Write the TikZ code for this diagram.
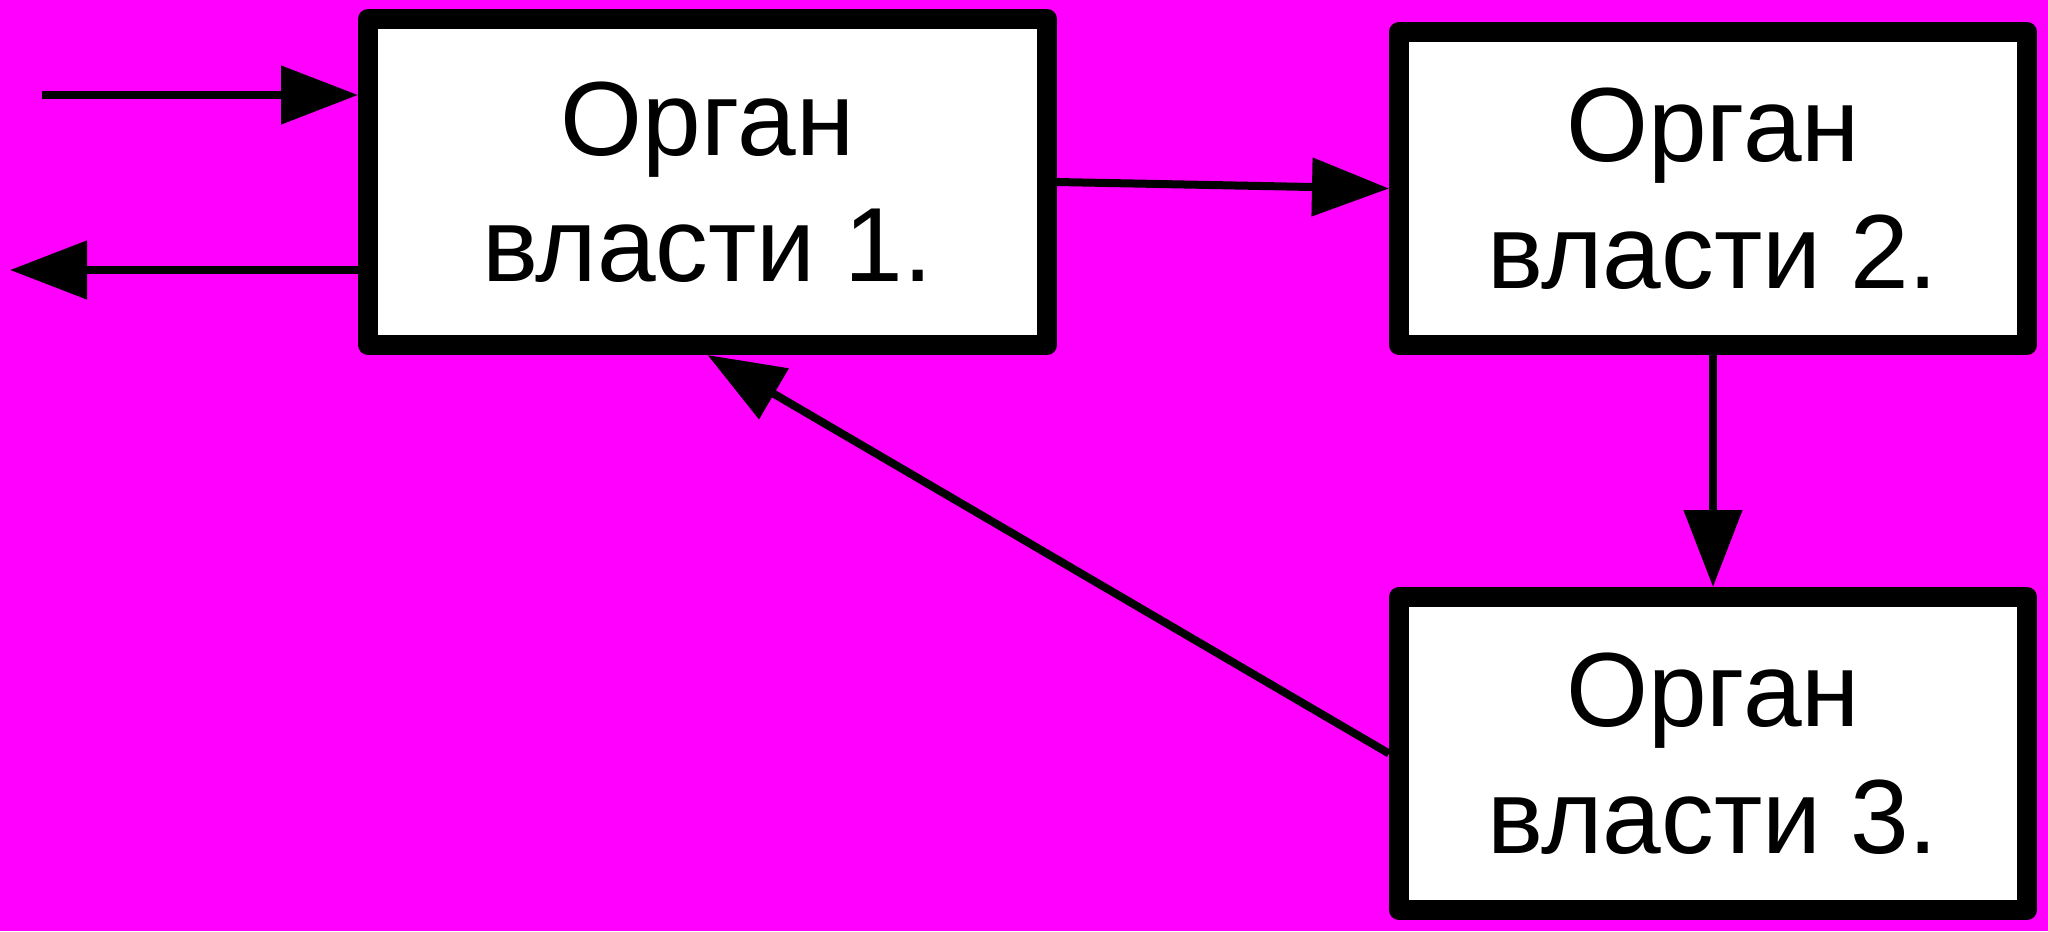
\documentclass[tikz,border=0pt]{standalone}
\usepackage{fontspec}
\setmainfont{Liberation Sans}
\usetikzlibrary{arrows.meta}
\definecolor{M}{RGB}{255, 0, 255}

\tikzset{
  organ/.style={draw, fill=white, line width=0.2cm, line join=round,
    align=center, font=\fontsize{30}{36}\selectfont},
  flecha/.style={line width=0.08cm, -{Triangle[length=7.7mm, width=5.7mm]}}
}

\begin{document}
\begin{tikzpicture}
   	%Fondo
   	\fill[color=M] (0,0) rectangle (20.48,9.31);

   	%Organos
   	\node[organ, minimum width=6.79cm, minimum height=3.26cm] (b1) at (7.075,7.49) {Орган\\власти 1.};
   	\node[organ, minimum width=6.28cm, minimum height=3.13cm] (b2) at (17.13,7.425) {Орган\\власти 2.};
   	\node[organ, minimum width=6.28cm, minimum height=3.13cm] (b3) at (17.13,1.775) {Орган\\власти 3.};

   	%Extremos libres
   	\coordinate (inA) at (0.42,8.36);
   	\coordinate (outA) at (0.10,6.61);

   	%Flechas
   	\draw[flecha] (inA) -- (b1.west |- inA);
   	\draw[flecha] (b1.west |- outA) -- (outA);
   	\draw[flecha] (b1.east) -- (b2.west);
   	\draw[flecha] (b2.south) -- (b3.north);
   	\draw[flecha] (b3.west) -- (b1.south);
\end{tikzpicture}
\end{document}
